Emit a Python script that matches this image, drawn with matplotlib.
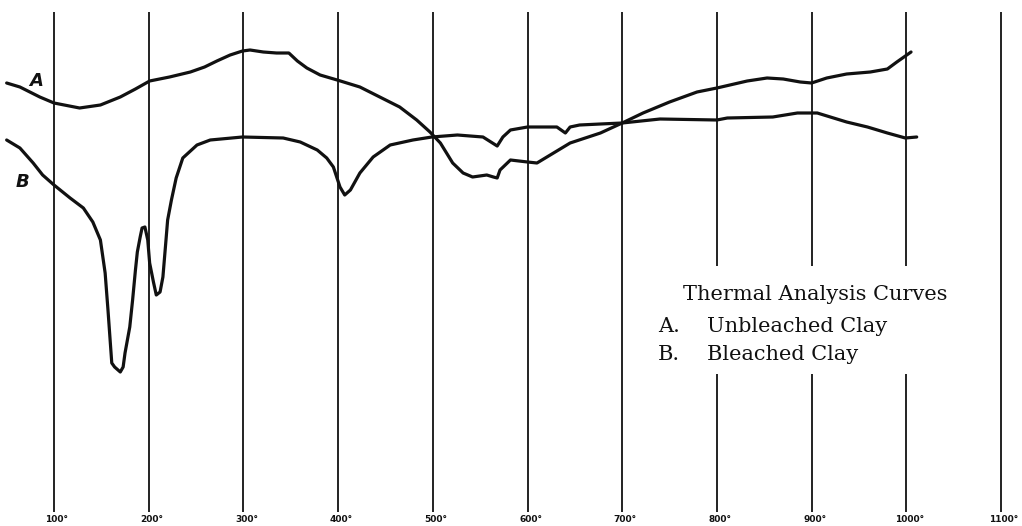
import matplotlib
matplotlib.use("Agg")
import matplotlib.pyplot as plt

# Temperature grid (degrees C)
grid_temps = [100, 200, 300, 400, 500, 600, 700, 800, 900, 1000, 1100]
tick_labels = ["100°", "200°", "300°", "400°", "500°", "600°", "700°", "800°", "900°", "1000°", "1100°"]
# grid lines broken by the caption
broken_temps = [800, 900, 1000]

# Curve A: Unbleached clay (temperature, deflection measured downward from top)
a_temp = [50, 64, 85, 100, 127, 149, 170, 186, 201, 222, 244, 259, 272, 286, 299, 307, 321,
          335, 348, 357, 367, 381, 399, 423, 444, 465, 483, 497, 508, 521, 532, 542, 557,
          564, 568, 571, 582, 600, 610, 624, 645, 677, 700, 722, 750, 779, 800, 832, 853,
          870, 888, 900, 916, 937, 962, 980, 990, 1005]
a_defl = [83, 87, 97, 103, 108, 105, 97, 89, 81, 77, 72, 67, 61, 55, 51, 50, 52,
          53, 53, 61, 68, 75, 80, 87, 97, 107, 120, 132, 143, 163, 173, 177, 175,
          177, 178, 170, 160, 162, 163, 155, 143, 133, 123, 113, 102, 92, 88, 81, 78,
          79, 82, 83, 78, 74, 72, 69, 62, 52]

# Curve B: Bleached clay
b_temp = [50, 64, 78, 88, 100, 117, 131, 141, 149, 154, 157, 161, 164, 170, 173, 175, 180,
          183, 186, 188, 191, 193, 196, 199, 201, 205, 208, 212, 215, 218, 220, 224, 229,
          236, 251, 265, 299, 342, 360, 378, 388, 395, 402, 407, 413, 423, 437, 455, 479,
          499, 526, 553, 563, 568, 574, 582, 600, 631, 640, 645, 655, 677, 700, 740, 800,
          811, 859, 885, 906, 937, 959, 980, 999, 1011]
b_defl = [140, 148, 163, 175, 185, 198, 208, 222, 240, 273, 310, 363, 367, 372, 367, 353, 327,
          300, 270, 252, 237, 228, 227, 240, 263, 282, 295, 292, 277, 243, 220, 200, 178,
          158, 145, 140, 137, 138, 142, 150, 158, 167, 187, 195, 190, 173, 157, 145, 140,
          137, 135, 137, 143, 146, 137, 130, 127, 127, 133, 127, 125, 124, 123, 119, 120,
          118, 117, 113, 113, 122, 127, 133, 138, 137]

caption_title = "Thermal Analysis Curves"
caption_rows = [("A.", "Unbleached Clay"), ("B.", "Bleached Clay")]

W, H = 1022, 526
fig = plt.figure(figsize=(W / 100, H / 100), dpi=100)
ax = fig.add_axes([0, 0, 1, 1])
px_per_deg = 0.947
x0 = 100 - 54 / px_per_deg
ax.set_xlim(x0, x0 + W / px_per_deg)
ax.set_ylim(H, 0)
ax.axis("off")


def px2t(x):
    return x0 + x / px_per_deg


ink = "#111111"
for t in grid_temps:
    if t in broken_temps:
        ax.vlines(t, 12, 266, color=ink, lw=1.3)
        ax.vlines(t, 374, 512, color=ink, lw=1.3)
    else:
        ax.vlines(t, 12, 512, color=ink, lw=1.3)

for t, lab in zip(grid_temps, tick_labels):
    ax.text(t + 3 / px_per_deg, 520, lab, ha="center", va="center", fontsize=6.5,
            fontweight="bold", color=ink, family="DejaVu Sans", clip_on=False)

ax.plot(a_temp, a_defl, color=ink, lw=2.3, solid_joinstyle="round", solid_capstyle="round")
ax.plot(b_temp, b_defl, color=ink, lw=2.3, solid_joinstyle="round", solid_capstyle="round")

ax.text(px2t(36), 81, "A", fontsize=13, fontweight="bold", style="italic", ha="center",
        va="center", color=ink, family="DejaVu Sans")
ax.text(px2t(22), 182, "B", fontsize=13, fontweight="bold", style="italic", ha="center",
        va="center", color=ink, family="DejaVu Sans")

cap_font = dict(fontsize=15, color=ink, family="DejaVu Serif", va="center", ha="left")
ax.text(px2t(683), 295, caption_title, **cap_font)
for i, (k, v) in enumerate(caption_rows):
    y = 327 + i * 28
    ax.text(px2t(658), y, k, **cap_font)
    ax.text(px2t(707), y, v, **cap_font)

fig.savefig("out.png", dpi=100, facecolor="white")
